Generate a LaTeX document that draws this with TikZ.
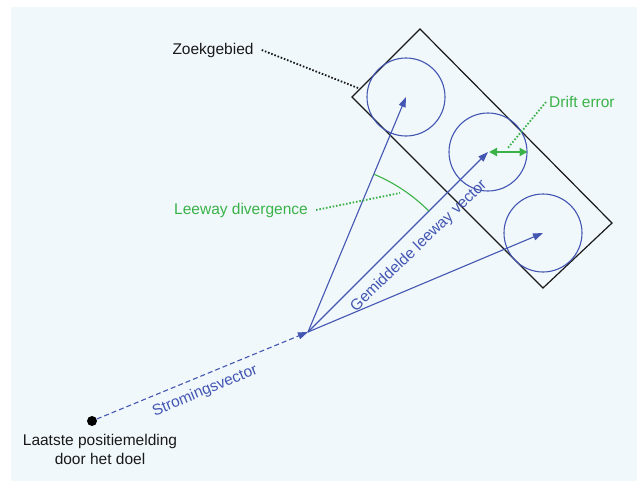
\documentclass[tikz,border=0pt]{standalone}
\usepackage{fontspec}
\setmainfont{Liberation Sans}
\usetikzlibrary{arrows.meta}
\definecolor{bgblue}{RGB}{241,248,252}
\definecolor{vecblue}{RGB}{66,86,178}
\definecolor{lgreen}{RGB}{58,178,72}
\definecolor{txtblack}{RGB}{25,25,25}
\tikzset{
  lbl/.style={font=\fontsize{15.5}{19}\selectfont, inner sep=0pt},
  zone/.style={circle, draw=vecblue, line width=1.1pt, minimum size=78pt, inner sep=0pt},
  vec/.style={draw=vecblue, line width=1.1pt, -{Triangle[length=10pt,width=7pt]}},
  flow/.style={vec, dash pattern=on 5pt off 3pt},
  gdot/.style={draw=lgreen, line width=1.8pt, dash pattern=on 1.6pt off 1.8pt},
  kdot/.style={draw=txtblack, line width=1.8pt, dash pattern=on 1.6pt off 1.8pt},
  drift/.style={draw=lgreen, line width=2pt, {Triangle[length=8pt,width=8pt]}-{Triangle[length=8pt,width=8pt]}},
}
\begin{document}
\begin{tikzpicture}[x=1pt,y=-1pt]
\useasboundingbox (0,0) rectangle (637,485);
\fill[white] (0,0) rectangle (637,485);
\fill[bgblue] (11,7) rectangle (637,481);
% search area
\draw[txtblack, line width=1.2pt] (420,29) -- (612,223) -- (543,288) -- (352,97) -- cycle;
% zones
\node[zone] (c1) at (406,97) {};
\node[zone] (c2) at (488,152) {};
\node[zone] (c3) at (543,233) {};
% points
\coordinate (J) at (308,332);
\node[circle, fill=black, minimum size=10pt, inner sep=0pt] (dot) at (92,421) {};
% vectors
\draw[flow] (dot) -- (J);
\draw[vec] (J) -- (c1.center);
\draw[vec] (J) -- (c2.center);
\draw[vec] (J) -- (c3.center);
% leeway divergence arc
\draw[lgreen, line width=1.1pt] plot[domain=45:67.4, samples=40] ({308+171*cos(\x)},{332-171*sin(\x)});
% drift error
\draw[drift] ([xshift=1pt]c2.center) -- (c2.east);
% labels
\node[lbl, txtblack, align=center] (last) at (100,449) {Laatste positiemelding\\door het doel};
\node[lbl, vecblue, rotate=22.4] (strom) at (205,391) {Stromingsvector};
\node[lbl, vecblue, rotate=44] (gem) at (419,246) {Gemiddelde leeway vector};
\node[lbl, txtblack] (zoek) at (213,50) {Zoekgebied};
\node[lbl, lgreen] (leeway) at (241,210) {Leeway divergence};
\node[lbl, lgreen, anchor=west] (drifttxt) at (549,102) {Drift error};
% leader lines
\coordinate (zend) at (358,88);
\coordinate (lend) at (400,193);
\coordinate (dend) at (507,149);
\draw[kdot] ([xshift=8pt]zoek.east) -- (zend);
\draw[gdot] ([xshift=8pt]leeway.east) -- (lend);
\draw[gdot] ([xshift=-3pt]drifttxt.west) -- (dend);
\end{tikzpicture}
\end{document}
